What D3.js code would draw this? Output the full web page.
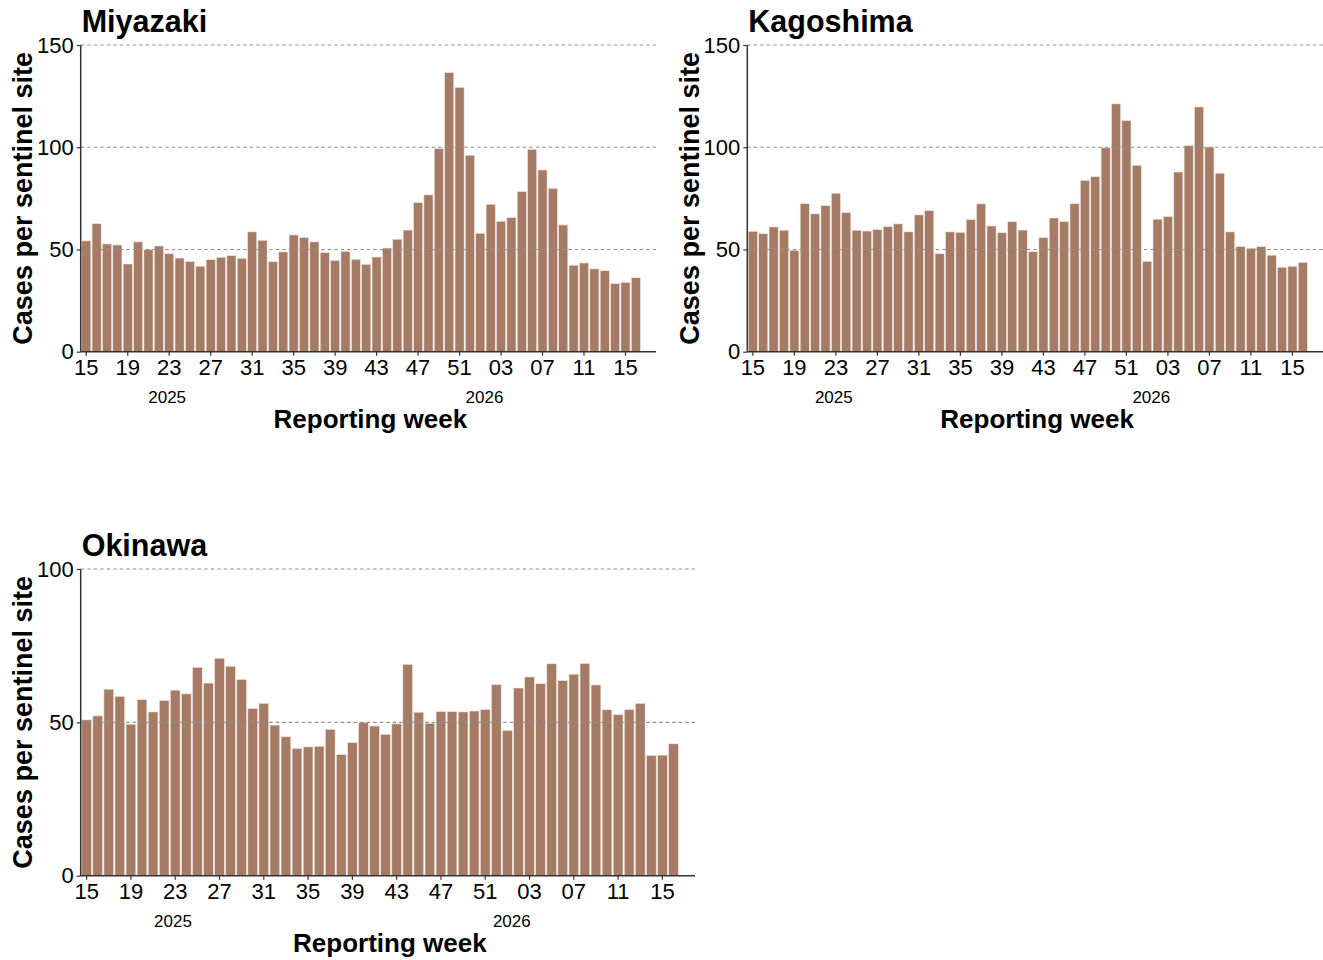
<!DOCTYPE html>
<html>
<head>
<meta charset="utf-8">
<script src="https://cdn.jsdelivr.net/npm/d3@7"></script>
<style>
  html, body { margin: 0; padding: 0; background: #fff; }
  svg { display: block; }
  text { font-family: "Liberation Sans", Arial, Helvetica, sans-serif; fill: #000; }
</style>
</head>
<body>
<svg id="chart" width="1323" height="960"></svg>
<script>
// ---------- DATA ----------
const weeks = [
  "2025-15","2025-16","2025-17","2025-18","2025-19","2025-20","2025-21","2025-22","2025-23","2025-24",
  "2025-25","2025-26","2025-27","2025-28","2025-29","2025-30","2025-31","2025-32","2025-33","2025-34",
  "2025-35","2025-36","2025-37","2025-38","2025-39","2025-40","2025-41","2025-42","2025-43","2025-44",
  "2025-45","2025-46","2025-47","2025-48","2025-49","2025-50","2025-51","2025-52",
  "2026-01","2026-02","2026-03","2026-04","2026-05","2026-06","2026-07","2026-08","2026-09","2026-10",
  "2026-11","2026-12","2026-13","2026-14","2026-15","2026-16"
];
const tickWeeks = ["2025-15","2025-19","2025-23","2025-27","2025-31","2025-35","2025-39","2025-43",
  "2025-47","2025-51","2026-03","2026-07","2026-11","2026-15"];
const tickLabels = ["15","19","23","27","31","35","39","43","47","51","03","07","11","15"];
const yearLabels = ["2025","2026"];
const yearAnchorWeeks = ["2025-23","2026-01"];

const miyazaki = [54.2,62.6,52.7,52.2,42.9,53.7,49.9,51.7,47.9,45.8,44.2,41.8,45.0,46.2,47.0,45.7,
  58.6,54.5,44.0,48.8,57.1,55.8,53.7,48.4,44.7,49.1,45.2,42.7,46.3,50.7,55.0,59.5,72.9,76.7,99.3,
  136.5,129.3,96.1,
  57.9,72.1,63.8,65.6,78.3,99.0,88.9,79.9,62.0,42.3,43.4,40.5,39.6,33.3,33.9,36.2];
const kagoshima = [58.9,57.7,61.0,59.4,49.6,72.4,67.4,71.4,77.5,68.0,59.4,59.0,59.7,61.2,62.5,58.6,
  66.9,69.0,47.9,58.6,58.4,64.6,72.3,61.5,58.2,63.6,59.5,48.9,55.8,65.4,63.6,72.4,83.7,85.6,99.7,
  121.2,113.0,91.2,
  44.2,64.8,66.1,87.9,100.8,119.7,100.1,87.3,58.6,51.4,50.6,51.4,47.2,41.3,41.8,43.7];
const okinawa = [50.8,52.1,60.8,58.5,49.4,57.4,53.4,57.1,60.5,59.3,67.9,62.8,70.9,68.3,64.0,54.5,
  56.2,49.1,45.3,41.5,42.0,42.2,47.7,39.5,43.4,49.9,48.8,46.1,49.5,68.9,53.3,49.7,53.5,53.5,53.4,
  53.7,54.2,62.3,
  47.4,61.2,64.8,62.6,69.1,63.6,65.7,69.2,62.2,54.1,52.5,54.2,56.2,39.2,39.3,43.0];

const yTicksTop = [0, 50, 100, 150];
const yTicksBottom = [0, 50, 100];
const regionNames = ["Miyazaki", "Kagoshima", "Okinawa"];
const yAxisTitle = "Cases per sentinel site";
const xAxisTitle = "Reporting week";

// ---------- LAYOUT ----------
const panels = [
  { name: regionNames[0], values: miyazaki,  ticks: yTicksTop,    x0: 80.7,  x1: 656,  yTop: 45,  yBot: 351.7, ylabX: 31.5 },
  { name: regionNames[1], values: kagoshima, ticks: yTicksTop,    x0: 747.3, x1: 1323, yTop: 45,  yBot: 351.7, ylabX: 698.5 },
  { name: regionNames[2], values: okinawa,   ticks: yTicksBottom, x0: 80.7,  x1: 695,  yTop: 569, yBot: 875.7, ylabX: 31.5 }
];

const barColor = "#A57B66";
const tickFont = 22;
const svg = d3.select("#chart");

panels.forEach(p => {
  const g = svg.append("g");
  const x = d3.scaleBand().domain(weeks).range([p.x0, p.x1])
    .paddingInner(0.12).paddingOuter(0.8).align(0.06);
  const y = d3.scaleLinear().domain([0, d3.max(p.ticks)]).range([p.yBot, p.yTop]);
  const data = weeks.map((w, i) => ({ w, v: p.values[i] }));

  // bars
  g.append("g").selectAll("rect").data(data).join("rect")
    .attr("x", d => x(d.w))
    .attr("y", d => y(d.v))
    .attr("width", x.bandwidth())
    .attr("height", d => y(0) - y(d.v))
    .attr("fill", barColor)
    .attr("stroke", "#f1e4dd")
    .attr("stroke-width", 0.6);

  // gridlines (dashed) on top
  g.append("g").selectAll("line").data(p.ticks.filter(t => t > 0)).join("line")
    .attr("x1", p.x0).attr("x2", p.x1)
    .attr("y1", d => y(d)).attr("y2", d => y(d))
    .attr("stroke", "#8f8f8f").attr("stroke-width", 1.1)
    .attr("stroke-dasharray", "3.5,3");

  // y axis
  const yAxis = d3.axisLeft(y).tickValues(p.ticks).tickSize(4).tickPadding(3).tickFormat(d3.format("d"));
  const ya = g.append("g").attr("transform", `translate(${p.x0},0)`).call(yAxis);
  ya.attr("font-family", null).attr("font-size", null);
  ya.select(".domain").attr("stroke", "#333").attr("stroke-width", 1.5).attr("d", `M0,${p.yTop}V${p.yBot}`);
  ya.selectAll(".tick line").attr("stroke", "#333").attr("stroke-width", 1.2);
  ya.selectAll(".tick text").attr("font-size", tickFont).attr("fill", "#000");

  // x axis
  const xAxis = d3.axisBottom(x).tickValues(tickWeeks).tickSize(4).tickPadding(4)
    .tickFormat(w => tickLabels[tickWeeks.indexOf(w)]);
  const xa = g.append("g").attr("transform", `translate(0,${p.yBot})`).call(xAxis);
  xa.attr("font-family", null).attr("font-size", null);
  xa.select(".domain").attr("stroke", "#333").attr("stroke-width", 1.5).attr("d", `M${p.x0},0H${p.x1}`);
  xa.selectAll(".tick line").attr("stroke", "#333").attr("stroke-width", 1.2);
  xa.selectAll(".tick text").attr("font-size", tickFont).attr("fill", "#000");

  // year labels
  const offsets = [-0.2, 0.4];
  g.append("g").selectAll("text").data(yearLabels).join("text")
    .attr("x", (d, i) => x(yearAnchorWeeks[i]) + x.bandwidth() / 2 + offsets[i] * x.step())
    .attr("y", p.yBot + 51.6)
    .attr("text-anchor", "middle")
    .attr("font-size", 17)
    .text(d => d);

  // x axis title
  g.append("text")
    .attr("x", (p.x0 + p.x1) / 2 + 2)
    .attr("y", p.yBot + 76.6)
    .attr("text-anchor", "middle")
    .attr("font-size", 26)
    .attr("font-weight", "bold")
    .text(xAxisTitle);

  // y axis title
  g.append("text")
    .attr("transform", `translate(${p.ylabX},${(p.yTop + p.yBot) / 2}) rotate(-90)`)
    .attr("text-anchor", "middle")
    .attr("font-size", 27)
    .attr("font-weight", "bold")
    .text(yAxisTitle);

  // panel title
  g.append("text")
    .attr("x", p.x0 + 1)
    .attr("y", p.yTop - 12.7)
    .attr("font-size", 30.5)
    .attr("font-weight", "bold")
    .text(p.name);
});
</script>
</body>
</html>
